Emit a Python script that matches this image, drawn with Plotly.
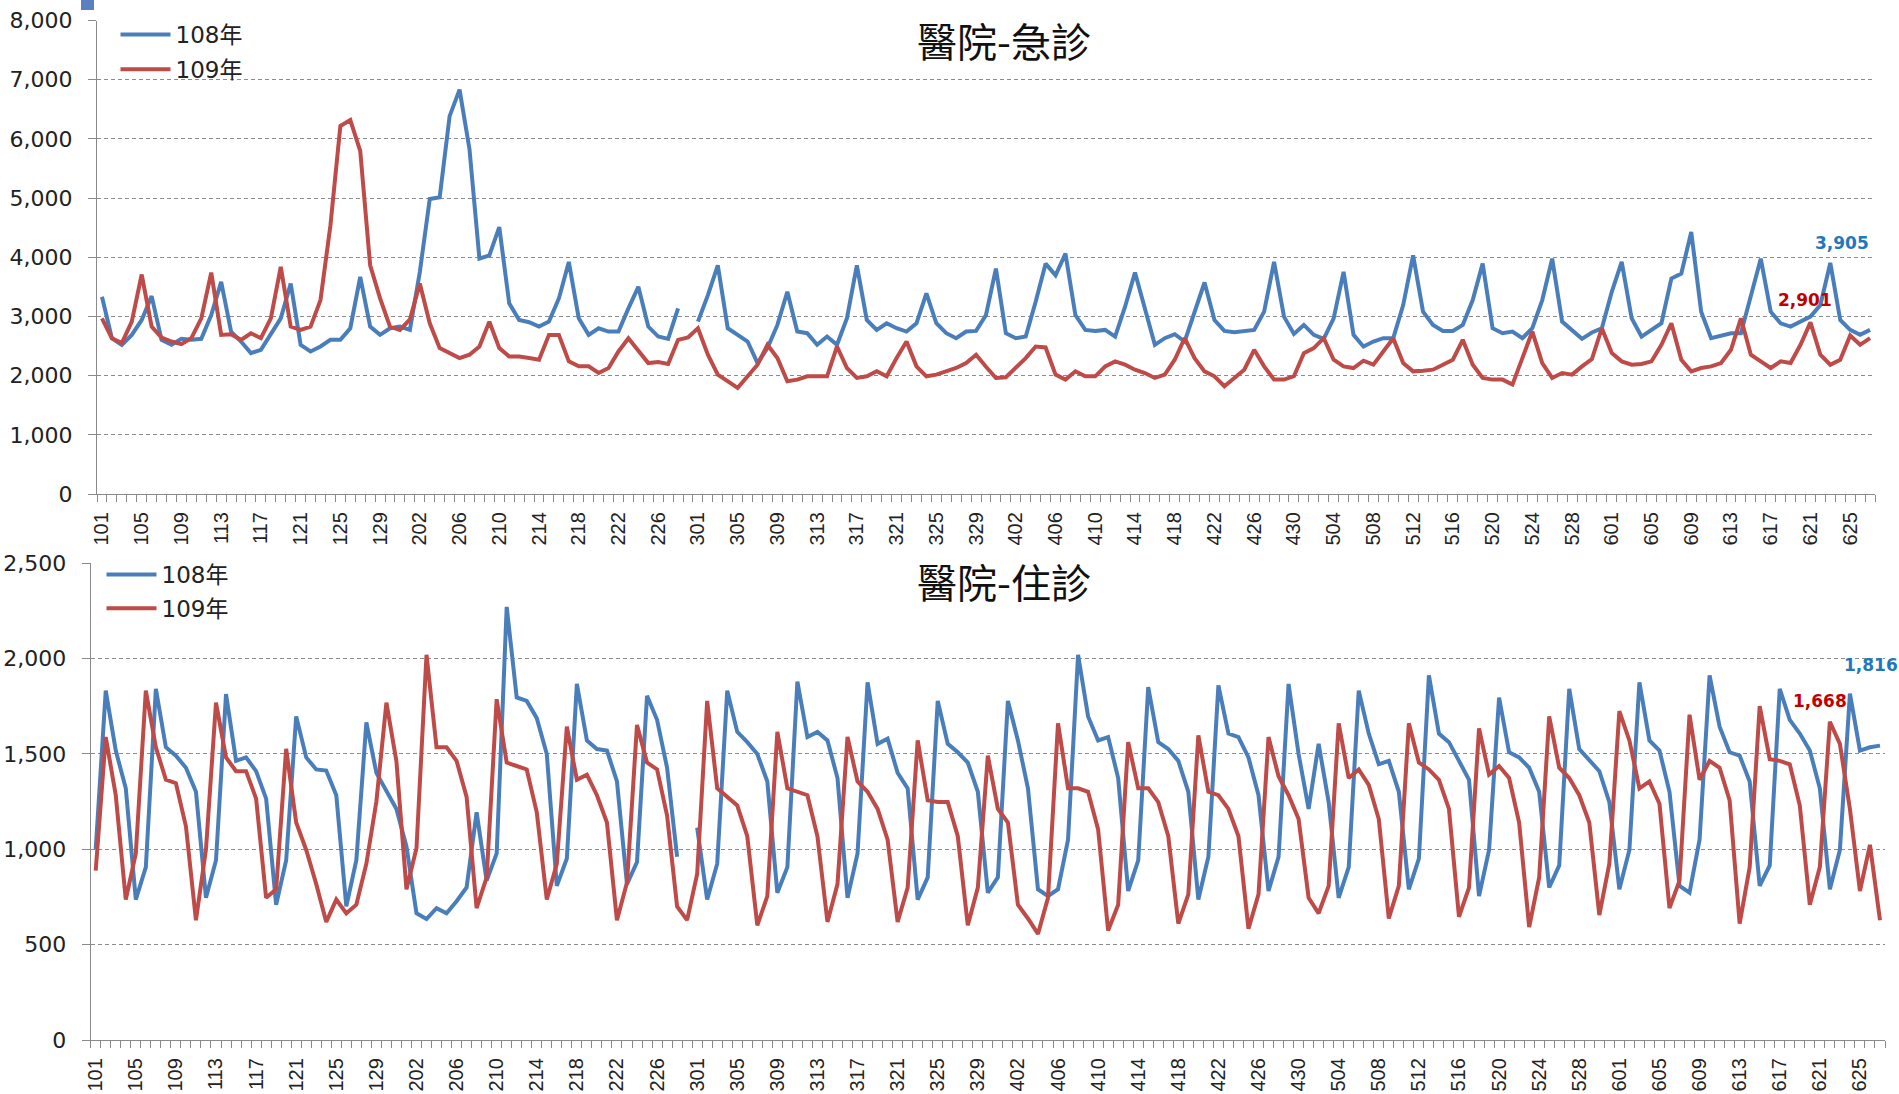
import plotly.graph_objects as go

# ---------------- data ----------------
categories = (
    ["101", "102", "103", "104", "105", "106", "107", "108", "109", "110", "111", "112", "113", "114", "115", "116",
     "117", "118", "119", "120", "121", "122", "123", "124", "125", "126", "127", "128", "129", "130", "131"]
    + ["201", "202", "203", "204", "205", "206", "207", "208", "209", "210", "211", "212", "213", "214", "215",
       "216", "217", "218", "219", "220", "221", "222", "223", "224", "225", "226", "227", "228", "229"]
    + ["301", "302", "303", "304", "305", "306", "307", "308", "309", "310", "311", "312", "313", "314", "315",
       "316", "317", "318", "319", "320", "321", "322", "323", "324", "325", "326", "327", "328", "329", "330", "331"]
    + ["401", "402", "403", "404", "405", "406", "407", "408", "409", "410", "411", "412", "413", "414", "415",
       "416", "417", "418", "419", "420", "421", "422", "423", "424", "425", "426", "427", "428", "429", "430"]
    + ["501", "502", "503", "504", "505", "506", "507", "508", "509", "510", "511", "512", "513", "514", "515",
       "516", "517", "518", "519", "520", "521", "522", "523", "524", "525", "526", "527", "528", "529", "530", "531"]
    + ["601", "602", "603", "604", "605", "606", "607", "608", "609", "610", "611", "612", "613", "614", "615",
       "616", "617", "618", "619", "620", "621", "622", "623", "624", "625", "626", "627"]
)

# 醫院-急診
er_108 = [
    3333, 2633, 2521, 2689, 2941, 3344, 2605, 2521, 2622, 2605, 2622, 3025, 3585, 2745, 2577, 2381,
    2437, 2689, 2969, 3557, 2521, 2409, 2493, 2605, 2605, 2801, 3669, 2829, 2689, 2801, 2829,
    2773, 3750, 4986, 5014, 6386, 6834, 5826, 3977, 4033, 4510, 3221, 2941, 2902, 2829, 2913,
    3305, 3921, 2969, 2689, 2801, 2745, 2745, 3137, 3501, 2829, 2661, 2622, 3137, None,
    2913, 3361, 3865, 2801, 2689, 2577, 2213, 2465, 2857, 3417, 2745, 2717, 2521, 2661, 2521,
    2969, 3865, 2941, 2773, 2885, 2801, 2745, 2885, 3389, 2885, 2717, 2633, 2745, 2756, 3025, 3809,
    2717, 2633, 2661, 3249, 3893, 3697, 4061, 3025, 2773, 2756, 2773, 2661, 3165, 3742, 3137,
    2521, 2633, 2700, 2577, 3081, 3574, 2941, 2756, 2734, 2745, 2773, 3081, 3921, 2997, 2705,
    2857, 2689, 2622, 2969, 3753, 2689, 2493, 2577, 2633, 2633, 3193, 4033, 3081, 2857, 2756,
    2756, 2857, 3277, 3893, 2801, 2717, 2745, 2633, 2801, 3277, 3977, 2913, 2773, 2622, 2730, 2801,
    3417, 3921, 2969, 2661, 2773, 2885, 3641, 3725, 4426, 3081, 2633, 2678, 2717, 2717, 3361,
    3977, 3081, 2885, 2829, 2913, 2997, 3193, 3905, 2941, 2773, 2689, 2773,
]
er_109 = [
    2969, 2633, 2549, 2913, 3709, 2829, 2644, 2577, 2532, 2633, 2969, 3742, 2689, 2700, 2605, 2717,
    2633, 2969, 3837, 2829, 2773, 2829, 3277, 4538, 6218, 6319, 5798, 3865, 3305, 2829, 2773,
    2950, 3557, 2885, 2465, 2381, 2297, 2353, 2493, 2913, 2465, 2325, 2325, 2297, 2269, 2689,
    2689, 2241, 2157, 2157, 2045, 2129, 2409, 2633, 2409, 2213, 2230, 2196, 2605, 2644,
    2801, 2353, 2017, 1905, 1793, 1989, 2185, 2521, 2297, 1905, 1933, 1989, 1989, 1989, 2493,
    2129, 1961, 1989, 2073, 1989, 2297, 2577, 2157, 1989, 2017, 2073, 2129, 2213, 2353, 2150, 1961,
    1972, 2129, 2297, 2493, 2476, 2017, 1933, 2073, 1989, 1989, 2157, 2241, 2185, 2101, 2045,
    1961, 2017, 2269, 2633, 2297, 2073, 1989, 1821, 1961, 2101, 2437, 2157, 1933, 1933, 1990,
    2381, 2465, 2633, 2269, 2157, 2129, 2252, 2185, 2409, 2633, 2213, 2073, 2084, 2101, 2185,
    2269, 2605, 2185, 1961, 1933, 1933, 1849, 2297, 2745, 2213, 1961, 2045, 2017, 2157, 2280, 2801,
    2381, 2241, 2185, 2196, 2241, 2521, 2885, 2269, 2073, 2129, 2157, 2213, 2437, 2969, 2353,
    2241, 2129, 2241, 2213, 2521, 2901, 2353, 2185, 2269, 2678, 2521, 2633,
]

# 醫院-住診
ip_108 = [
    1000, 1831, 1517, 1319, 736, 906, 1840, 1534, 1490, 1427, 1301, 745, 942, 1813, 1463, 1481,
    1409, 1265, 709, 942, 1696, 1481, 1418, 1412, 1283, 700, 942, 1664, 1400, 1300, 1211,
    1014, 664, 634, 691, 664, 727, 799, 1193, 835, 978, 2270, 1795, 1777, 1687, 1499,
    808, 951, 1866, 1570, 1525, 1517, 1355, 817, 933, 1804, 1678, 1427, 960, None,
    1113, 736, 924, 1831, 1615, 1561, 1499, 1355, 772, 906, 1879, 1588, 1615, 1570, 1373,
    745, 978, 1875, 1552, 1579, 1400, 1319, 736, 852, 1777, 1552, 1508, 1454, 1301, 772, 852,
    1777, 1570, 1319, 790, 754, 790, 1050, 2019, 1696, 1570, 1588, 1373, 781, 942, 1849,
    1561, 1525, 1463, 1301, 736, 960, 1858, 1606, 1588, 1481, 1283, 781, 960, 1866, 1499,
    1211, 1552, 1247, 745, 906, 1831, 1606, 1445, 1463, 1301, 790, 951, 1911, 1606, 1561,
    1463, 1364, 754, 996, 1795, 1508, 1481, 1427, 1301, 799, 915, 1840, 1525, 1463, 1409, 1247,
    790, 996, 1875, 1570, 1517, 1301, 808, 772, 1050, 1911, 1642, 1508, 1490, 1355, 808,
    915, 1840, 1678, 1606, 1517, 1319, 790, 996, 1816, 1517, 1534, 1543,
]
ip_109 = [
    888, 1588, 1283, 736, 978, 1831, 1534, 1364, 1346, 1120, 628, 1000, 1768, 1481, 1409, 1409,
    1265, 745, 790, 1526, 1140, 996, 817, 619, 736, 664, 709, 924, 1250, 1768, 1460,
    790, 1005, 2019, 1534, 1534, 1463, 1274, 691, 852, 1786, 1454, 1436, 1418, 1193, 736,
    924, 1642, 1364, 1391, 1283, 1140, 628, 826, 1651, 1454, 1418, 1176, 700, 628,
    870, 1777, 1319, 1274, 1229, 1068, 601, 754, 1615, 1319, 1301, 1283, 1068, 619, 817,
    1588, 1355, 1301, 1211, 1050, 619, 799, 1570, 1256, 1247, 1247, 1068, 601, 799, 1490, 1211,
    1140, 709, 637, 556, 745, 1660, 1319, 1319, 1301, 1104, 574, 709, 1561, 1319, 1319,
    1247, 1068, 610, 763, 1597, 1301, 1283, 1211, 1068, 583, 763, 1588, 1382, 1283, 1158,
    745, 664, 808, 1660, 1373, 1418, 1337, 1158, 637, 808, 1660, 1454, 1418, 1364, 1211,
    646, 799, 1633, 1391, 1436, 1373, 1140, 592, 852, 1696, 1427, 1373, 1283, 1140, 655, 924,
    1723, 1570, 1319, 1355, 1238, 691, 835, 1705, 1364, 1463, 1427, 1256, 610, 906, 1750,
    1472, 1463, 1445, 1229, 709, 906, 1668, 1552, 1211, 781, 1023, 628,
]

series_names = ["108年", "109年"]
titles = ["醫院-急診", "醫院-住診"]

# ---------------- styling ----------------
W, H = 1899, 1094
BLUE = "#4A7EBB"
RED = "#BE4B48"
LBL_BLUE = "#1F78BE"
LBL_RED = "#C00000"
AXIS = "#8A8A8A"
GRID = "#8C8C8C"

x_idx = list(range(len(categories)))
tick_idx = x_idx[::4]
tick_txt = [categories[i] for i in tick_idx]


def px_x(p):
    return p / W


def px_y(p):
    return 1 - p / H


fig = go.Figure()

charts = [
    dict(a=er_108, b=er_109, xa="x", ya="y", leg="legend"),
    dict(a=ip_108, b=ip_109, xa="x2", ya="y2", leg="legend2"),
]
for c in charts:
    for vals, name, col, grp in [(c["a"], series_names[0], BLUE, "g1"), (c["b"], series_names[1], RED, "g2")]:
        fig.add_trace(go.Scatter(
            x=x_idx, y=vals, mode="lines", name=name,
            line=dict(color=col, width=4),
            xaxis=c["xa"], yaxis=c["ya"], legend=c["leg"], legendgroup=grp,
            connectgaps=False, hoverinfo="skip",
        ))

xcommon = dict(
    range=[-0.5, len(categories) - 0.5], tickmode="array", tickvals=tick_idx, ticktext=tick_txt,
    tickangle=-90, ticks="", showgrid=False, zeroline=False, showline=True, linecolor=AXIS,
    linewidth=1.3, tickfont=dict(family="Liberation Sans, Arial", size=20, color="#222222"),
    ticklabelstandoff=9,
    minor=dict(ticks="outside", ticklen=7, tickcolor=AXIS, tickwidth=1, tickmode="linear",
               tick0=-0.5, dtick=1, showgrid=False),
    automargin=False, fixedrange=True,
)
ycommon = dict(
    showgrid=True, gridcolor=GRID, griddash="4px,3px", gridwidth=1, zeroline=False,
    showline=True, linecolor=AXIS, linewidth=1.3, ticks="outside", ticklen=8, tickcolor=AXIS,
    tickformat=",", tickfont=dict(family="DejaVu Sans", size=22, color="#222222"),
    ticklabelstandoff=11,
    automargin=False, fixedrange=True,
)

legend_font = dict(family="DejaVu Sans, Noto Sans CJK TC", size=23, color="#222222")

fig.update_layout(
    width=W, height=H,
    margin=dict(l=0, r=0, t=0, b=0),
    paper_bgcolor="white", plot_bgcolor="white",
    xaxis=dict(domain=[px_x(97), px_x(1875)], anchor="y", **xcommon),
    yaxis=dict(domain=[px_y(494), px_y(20.6)], anchor="x", range=[0, 8000], dtick=1000, **ycommon),
    xaxis2=dict(domain=[px_x(90.7), px_x(1885)], anchor="y2", **xcommon),
    yaxis2=dict(domain=[px_y(1040), px_y(563)], anchor="x2", range=[0, 2500], dtick=500, **ycommon),
    legend=dict(x=px_x(115.5), y=px_y(13), xanchor="left", yanchor="top", bgcolor="rgba(0,0,0,0)",
                font=legend_font, itemwidth=50, tracegroupgap=2, traceorder="grouped"),
    legend2=dict(x=px_x(101.5), y=px_y(553), xanchor="left", yanchor="top", bgcolor="rgba(0,0,0,0)",
                 font=legend_font, itemwidth=50, tracegroupgap=1, traceorder="grouped"),
    showlegend=True,
)

# titles
for t, yy in zip(titles, [40, 581]):
    fig.add_annotation(text=t, xref="paper", yref="paper", x=px_x(1004), y=px_y(yy),
                       showarrow=False, xanchor="center", yanchor="middle",
                       font=dict(family="Noto Sans CJK TC", size=40, color="#111111"))

# value labels
labels = [
    ("x", "y", 174, er_108, LBL_BLUE, 12, 20),
    ("x", "y", 172, er_109, LBL_RED, -5, 22),
    ("x2", "y2", 175, ip_108, LBL_BLUE, 21, 29),
    ("x2", "y2", 173, ip_109, LBL_RED, -10, 21),
]
for xr, yr, i, arr, col, dx, dy in labels:
    fig.add_annotation(text=f"<b>{arr[i]:,}</b>", xref=xr, yref=yr, x=i, y=arr[i],
                       showarrow=False, xanchor="center", yanchor="middle", xshift=dx, yshift=dy,
                       font=dict(family="DejaVu Sans", size=17, color=col))

# small blue marker at top-left corner
fig.add_shape(type="rect", xref="paper", yref="paper", x0=px_x(81), x1=px_x(94), y0=px_y(10), y1=1,
              fillcolor="#5B7FBF", line=dict(width=0))

fig.write_html("out.html")
